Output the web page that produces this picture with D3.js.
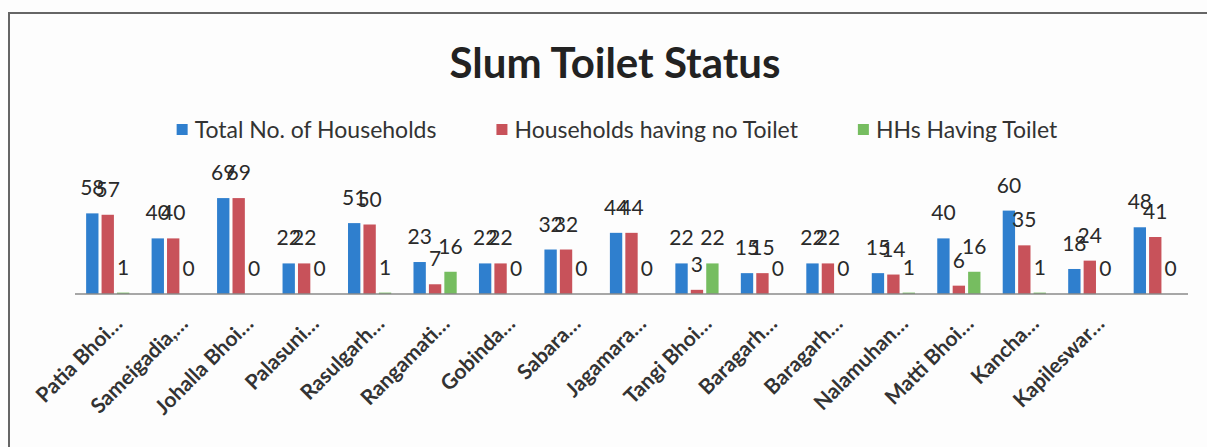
<!DOCTYPE html>
<html>
<head>
<meta charset="utf-8">
<script src="https://cdn.jsdelivr.net/npm/d3@7"></script>
<style>
  body { margin: 0; background: #fff; }
  svg { display: block; font-family: Lato, "Open Sans", sans-serif; }
</style>
</head>
<body>
<svg id="main"></svg>
<script>
'use strict';

var width = 1207;
var height = 447;

// chart data
var slums = ['Patia Bhoi…', 'Sameigadia,…', 'Johalla Bhoi…', 'Palasuni…', 'Rasulgarh…',
  'Rangamati…', 'Gobinda…', 'Sabara…', 'Jagamara…', 'Tangi Bhoi…', 'Baragarh…',
  'Baragarh…', 'Nalamuhan…', 'Matti Bhoi…', 'Kancha…', 'Kapileswar…', ''];
var seriesNames = ['Total No. of Households', 'Households having no Toilet', 'HHs Having Toilet'];
var totalHH    = [58, 40, 69, 22, 51, 23, 22, 32, 44, 22, 15, 22, 15, 40, 60, 18, 48];
var noToilet   = [57, 40, 69, 22, 50,  7, 22, 32, 44,  3, 15, 22, 14,  6, 35, 24, 41];
var withToilet = [ 1,  0,  0,  0,  1, 16,  0,  0,  0, 22,  0,  0,  1, 16,  1,  0,  0];
var colors = ['#2f7fce', '#c8525a', '#76bd60'];

var series = [totalHH, noToilet, withToilet];

var rows = slums.map(function(name, i) {
  return {
    i: i,
    name: name,
    values: series.map(function(s, k) { return { k: k, v: s[i] }; })
  };
});

var svg = d3.select('#main').attr('width', width).attr('height', height);

// paper + frame
svg.append('rect').attr('width', width).attr('height', height).attr('fill', '#fdfdfd');
svg.append('rect')
  .attr('x', 9).attr('y', 13)
  .attr('width', width + 20).attr('height', height + 20)
  .attr('fill', 'none').attr('stroke', '#666').attr('stroke-width', 2);

var plot = { left: 75, right: 1188, base: 294 };

var x0 = d3.scaleBand()
  .domain(d3.range(slums.length))
  .range([plot.left, plot.right])
  .paddingInner(0.34)
  .paddingOuter(0.17);

var x1 = d3.scaleBand()
  .domain([0, 1, 2])
  .range([0, x0.bandwidth()])
  .paddingInner(0.2);

var y = d3.scaleLinear().domain([0, 80]).range([plot.base, plot.base - 111.2]);

// title
svg.append('text')
  .attr('x', 615).attr('y', 78)
  .attr('text-anchor', 'middle')
  .attr('font-size', 42).attr('font-weight', 700)
  .attr('fill', '#222')
  .text('Slum Toilet Status');

// legend
var legend = svg.append('g').attr('class', 'legend');
var lx = 0;
seriesNames.forEach(function(name, k) {
  var item = legend.append('g').attr('transform', 'translate(' + lx + ',0)');
  item.append('rect').attr('x', 0).attr('y', -6).attr('width', 11).attr('height', 11).attr('fill', colors[k]);
  var t = item.append('text').attr('x', 18).attr('y', 8)
    .attr('font-size', 23).attr('fill', '#333').text(name);
  lx += 18 + t.node().getComputedTextLength() + 60;
});
var legendW = lx - 60;
legend.attr('transform', 'translate(' + (617 - legendW / 2) + ',130)');

// bars
var groups = svg.append('g').selectAll('g')
  .data(rows).enter()
  .append('g')
  .attr('transform', function(d) { return 'translate(' + x0(d.i) + ',0)'; });

groups.selectAll('rect')
  .data(function(d) { return d.values; }).enter()
  .append('rect')
  .attr('x', function(d) { return x1(d.k); })
  .attr('y', function(d) { return y(d.v); })
  .attr('width', x1.bandwidth())
  .attr('height', function(d) { return plot.base - y(d.v); })
  .attr('fill', function(d) { return colors[d.k]; });

groups.selectAll('text')
  .data(function(d) { return d.values; }).enter()
  .append('text')
  .attr('x', function(d) { return x1(d.k) + x1.bandwidth() / 2; })
  .attr('y', function(d) { return y(d.v) - 18; })
  .attr('text-anchor', 'middle')
  .attr('font-size', 21).attr('fill', '#2a2a2a')
  .text(function(d) { return d.v; });

// axis line
svg.append('line')
  .attr('x1', plot.left).attr('x2', plot.right)
  .attr('y1', plot.base).attr('y2', plot.base)
  .attr('stroke', '#8a8a8a').attr('stroke-width', 1.5);

// category labels, rotated
svg.append('g').selectAll('text')
  .data(rows).enter()
  .append('text')
  .attr('transform', function(d) {
    var cx = x0(d.i) + x0.bandwidth() / 2;
    return 'translate(' + (cx + 16) + ',325) rotate(-45)';
  })
  .attr('text-anchor', 'end')
  .attr('font-size', 21).attr('font-weight', 700)
  .attr('fill', '#333')
  .text(function(d) { return d.name; });
</script>
</body>
</html>
